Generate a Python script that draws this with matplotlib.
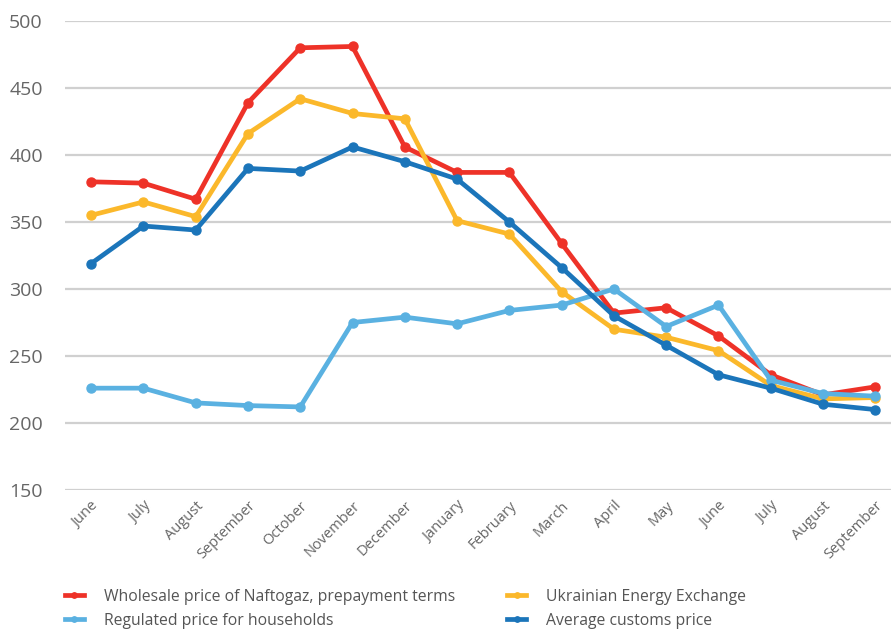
import numpy as np
from matplotlib import pyplot as plt

months = ["June", "July", "August", "September", "October", "November", "December",
          "January", "February", "March", "April", "May", "June", "July", "August", "September"]

wholesale = [380, 379, 367, 439, 480, 481, 406, 387, 387, 334, 282, 286, 265, 236, 221, 227]
exchange = [355, 365, 354, 416, 442, 431, 427, 351, 341, 298, 270, 264, 254, 228, 218, 219]
regulated = [226, 226, 215, 213, 212, 275, 279, 274, 284, 288, 300, 272, 288, 232, 222, 220]
customs = [319, 347, 344, 390, 388, 406, 395, 382, 350, 316, 280, 258, 236, 226, 214, 210]

plt.rcParams['font.family'] = ['Open Sans', 'DejaVu Sans']

fig = plt.figure(figsize=(8.91, 6.29), dpi=100)
ax = fig.add_axes([65 / 891, 1 - 490 / 629, 1 - 65 / 891, (490 - 21) / 629])

x = np.arange(len(months))
series = [
    (wholesale, "#EE3228", "Wholesale price of Naftogaz, prepayment terms"),
    (exchange, "#FBB82B", "Ukrainian Energy Exchange"),
    (regulated, "#5AB1E1", "Regulated price for households"),
    (customs, "#1B75BA", "Average customs price"),
]
handles = {}
for vals, col, lab in series:
    h, = ax.plot(x, vals, "-o", color=col, lw=3.4, ms=6.5, label=lab, clip_on=False)
    handles[lab] = h

ax.set_ylim(150, 500)
ax.set_xlim(-0.5, 15.3)
ax.set_yticks(range(150, 501, 50))
ax.yaxis.grid(True, color="#d0d0d0", lw=1.6)
ax.set_axisbelow(True)
for s in ax.spines.values():
    s.set_visible(False)
ax.tick_params(axis="both", length=0, colors="#666666")
ax.tick_params(axis="y", labelsize=14, pad=16)
ax.set_xticks(x)
ax.set_xticklabels(months, rotation=45, ha="right", rotation_mode="anchor", fontsize=10.5)
ax.tick_params(axis="x", pad=6)

order = ["Wholesale price of Naftogaz, prepayment terms", "Regulated price for households",
         "Ukrainian Energy Exchange", "Average customs price"]
leg = fig.legend([handles[k] for k in order], order, ncol=2, loc="upper left",
                 bbox_to_anchor=(57 / 891, 1 - 581 / 629), frameon=False, fontsize=11.3,
                 borderpad=0, handlelength=1.2, columnspacing=3.3, labelspacing=0.5,
                 handletextpad=1.3, markerscale=0.6)
for t in leg.get_texts():
    t.set_color("#555555")

fig.savefig("out.png", dpi=100)
